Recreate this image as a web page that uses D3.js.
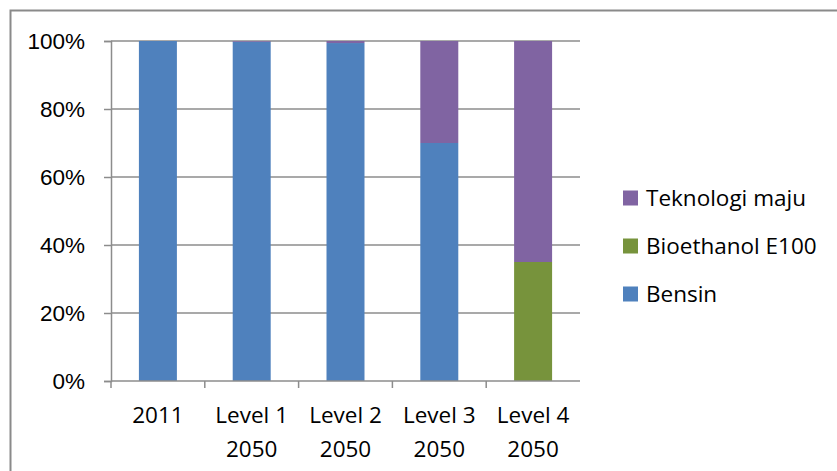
<!DOCTYPE html>
<html>
<head>
<meta charset="utf-8">
<script src="https://cdn.jsdelivr.net/npm/d3@7"></script>
<style>
  body { margin: 0; background: #fff; }
  svg { display: block; font-family: "Open Sans", sans-serif; }
</style>
</head>
<body>
<div id="main"></div>
<script>
// stacked 100% bars: fuel mix per scenario
var categories = ["2011", "Level 1|2050", "Level 2|2050", "Level 3|2050", "Level 4|2050"];
var bensin     = [100, 99.8, 99.4, 70, 0];
var bioethanol = [0, 0, 0, 0, 35];
var teknologi  = [0, 0.2, 0.6, 30, 65];
var yTicks = [0, 0.2, 0.4, 0.6, 0.8, 1];

var seriesNames = ["Bensin", "Bioethanol E100", "Teknologi maju"];
var colors = ["#4f81bd", "#77933c", "#8064a2"];

var width = 837, height = 471;
var plot = {left: 111, right: 580, top: 41, bottom: 381};
var fontSize = 22.5;

var svg = d3.select("#main")
  .append("svg")
  .attr("width", width)
  .attr("height", height);

// outer chart border (runs off the right and bottom edge)
svg.append("rect")
  .attr("x", 10.5).attr("y", 10.5)
  .attr("width", 900).attr("height", 600)
  .attr("fill", "none")
  .attr("stroke", "#8a8a8a")
  .attr("stroke-width", 2);

var table = categories.map(function(c, i) {
  return {cat: c, "Bensin": bensin[i] / 100, "Bioethanol E100": bioethanol[i] / 100, "Teknologi maju": teknologi[i] / 100};
});
var stack = d3.stack().keys(seriesNames)(table);

var x = d3.scaleBand()
  .domain(categories)
  .range([plot.left, plot.right])
  .paddingInner(0.595)
  .paddingOuter(0.2975);

var y = d3.scaleLinear()
  .domain([0, 1])
  .range([plot.bottom, plot.top]);

// gridlines
svg.append("g")
  .selectAll("line")
  .data(yTicks.filter(function(d) { return d > 0; }))
  .join("line")
    .attr("x1", plot.left).attr("x2", plot.right)
    .attr("y1", function(d) { return y(d); })
    .attr("y2", function(d) { return y(d); })
    .attr("stroke", "#8c8c8c")
    .attr("stroke-width", 1.5);

// bars
svg.append("g")
  .selectAll("g")
  .data(stack)
  .join("g")
    .attr("fill", function(d, i) { return colors[i]; })
  .selectAll("rect")
  .data(function(d) { return d; })
  .join("rect")
    .attr("x", function(d) { return x(d.data.cat); })
    .attr("width", x.bandwidth())
    .attr("y", function(d) { return y(d[1]); })
    .attr("height", function(d) { return Math.max(0, y(d[0]) - y(d[1])); });

// y axis
var yAxis = svg.append("g")
  .attr("transform", "translate(" + plot.left + ",0)")
  .call(d3.axisLeft(y).tickValues(yTicks).tickFormat(d3.format(".0%")).tickSize(7).tickPadding(19));
yAxis.select(".domain").attr("stroke", "#8c8c8c").attr("stroke-width", 1.5);
yAxis.selectAll(".tick line").attr("stroke", "#8c8c8c").attr("stroke-width", 1.5);
yAxis.selectAll("text").attr("font-size", fontSize).attr("fill", "#000").attr("font-family", null);

// x axis
var xTickPos = categories.map(function(c) { return x(c) - x.step() * x.paddingInner() / 2; });
svg.append("line")
  .attr("x1", plot.left).attr("x2", plot.right)
  .attr("y1", plot.bottom).attr("y2", plot.bottom)
  .attr("stroke", "#8c8c8c").attr("stroke-width", 1.5);
svg.append("g")
  .selectAll("line")
  .data(xTickPos)
  .join("line")
    .attr("x1", function(d) { return d; }).attr("x2", function(d) { return d; })
    .attr("y1", plot.bottom).attr("y2", plot.bottom + 7)
    .attr("stroke", "#8c8c8c").attr("stroke-width", 1.5);

svg.append("g")
  .attr("font-size", fontSize)
  .attr("text-anchor", "middle")
  .selectAll("text")
  .data(categories)
  .join("text")
    .attr("x", function(d) { return x(d) + x.bandwidth() / 2; })
    .attr("y", 423)
    .each(function(d) {
      var t = d3.select(this);
      d.split("|").forEach(function(line, i) {
        t.append("tspan")
          .attr("x", x(d) + x.bandwidth() / 2)
          .attr("dy", i === 0 ? 0 : 33.5)
          .text(line);
      });
    });

// legend, top to bottom in reverse series order
var legendItems = seriesNames.slice().reverse();
var legend = svg.append("g")
  .selectAll("g")
  .data(legendItems)
  .join("g")
    .attr("transform", function(d, i) { return "translate(623," + (198 + i * 48) + ")"; });
legend.append("rect")
  .attr("x", 0).attr("y", -7.5)
  .attr("width", 15).attr("height", 15)
  .attr("fill", function(d) { return colors[seriesNames.indexOf(d)]; });
legend.append("text")
  .attr("x", 23)
  .attr("dy", "0.36em")
  .attr("font-size", fontSize)
  .text(function(d) { return d; });
</script>
</body>
</html>
